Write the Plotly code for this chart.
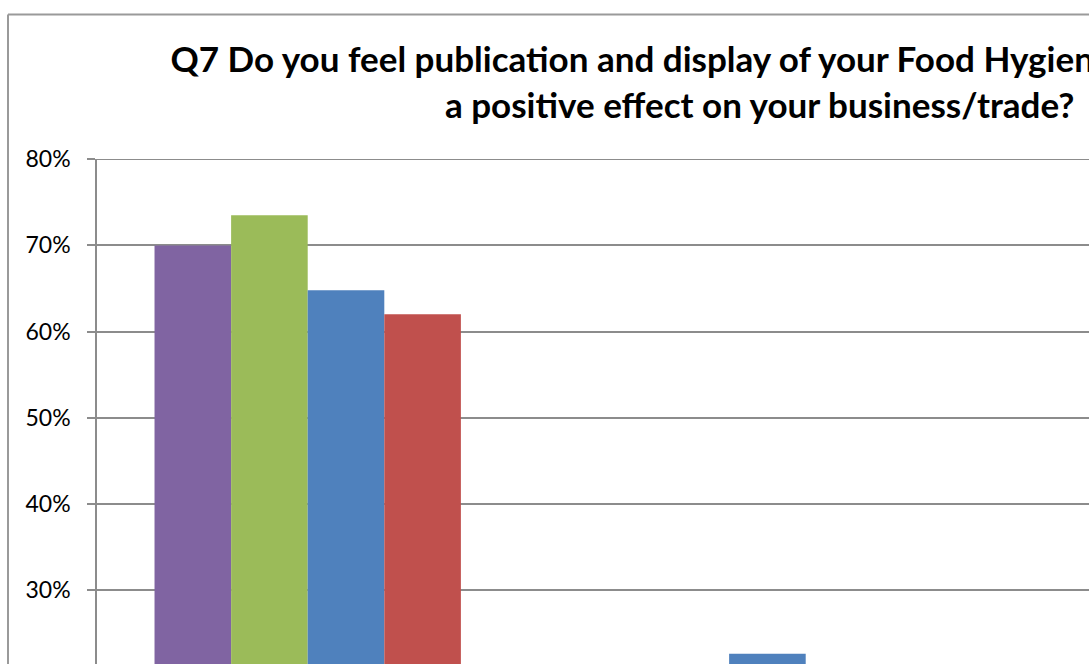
import plotly.graph_objects as go

categories = ["Yes", "No", "Don't know"]
series_names = ["Series 1", "Series 2", "Series 3", "Series 4"]
series_colors = ["#8064A2", "#9BBB59", "#4F81BD", "#C0504D"]
series_values = [
    [0.700, 0.180, 0.120],
    [0.735, 0.160, 0.105],
    [0.648, 0.226, 0.126],
    [0.620, 0.200, 0.180],
]
y_ticks = [0.3, 0.4, 0.5, 0.6, 0.7, 0.8]

title_text = ("Q7 Do you feel publication and display of your Food Hygiene Rating has had<br>"
              "a positive effect on your business/trade?")

fig = go.Figure()
for name, color, vals in zip(series_names, series_colors, series_values):
    fig.add_trace(go.Bar(x=categories, y=vals, name=name, marker=dict(color=color, line=dict(width=0))))

grid_color = "#8c8c8c"
border_color = "#9a9a9a"
bx = (8 - 97) / 992
by = 1 + (159 - 14.5) / 505
fig.update_layout(
    width=1089, height=664, autosize=False,
    margin=dict(l=97, r=0, t=159, b=0, pad=0),
    paper_bgcolor="white", plot_bgcolor="white",
    barmode="group", bargap=0.273, bargroupgap=0,
    showlegend=False,
    title=dict(text=title_text, x=0.668, xref="paper", xanchor="center",
               y=1 - 72 / 664, yref="container", yanchor="top",
               font=dict(family="Lato", size=35, color="black", weight="bold")),
    font=dict(family="Lato", size=22, color="black"),
    xaxis=dict(range=[-0.5, 1.854], showgrid=False, showticklabels=False, ticks="",
               showline=False, zeroline=False, fixedrange=True),
    yaxis=dict(range=[0.2142, 0.8003], tickvals=y_ticks, tickformat=".0%",
               showgrid=True, gridcolor=grid_color, gridwidth=1.5,
               showline=True, linecolor=grid_color, linewidth=1.5,
               ticks="outside", ticklen=8, tickcolor=grid_color, tickwidth=1.5,
               ticklabelstandoff=12, zeroline=False,
               tickfont=dict(family="Lato", size=23, color="black")),
    shapes=[
        dict(type="line", xref="paper", yref="y", x0=0, x1=1, y0=0.8, y1=0.8,
             line=dict(color=grid_color, width=1.5), layer="below"),
        dict(type="line", xref="paper", yref="paper", x0=bx, x1=1.2, y0=by, y1=by,
             line=dict(color=border_color, width=2)),
        dict(type="line", xref="paper", yref="paper", x0=bx, x1=bx, y0=-0.2, y1=by,
             line=dict(color=border_color, width=2)),
    ],
)

fig.write_html("out.html")
